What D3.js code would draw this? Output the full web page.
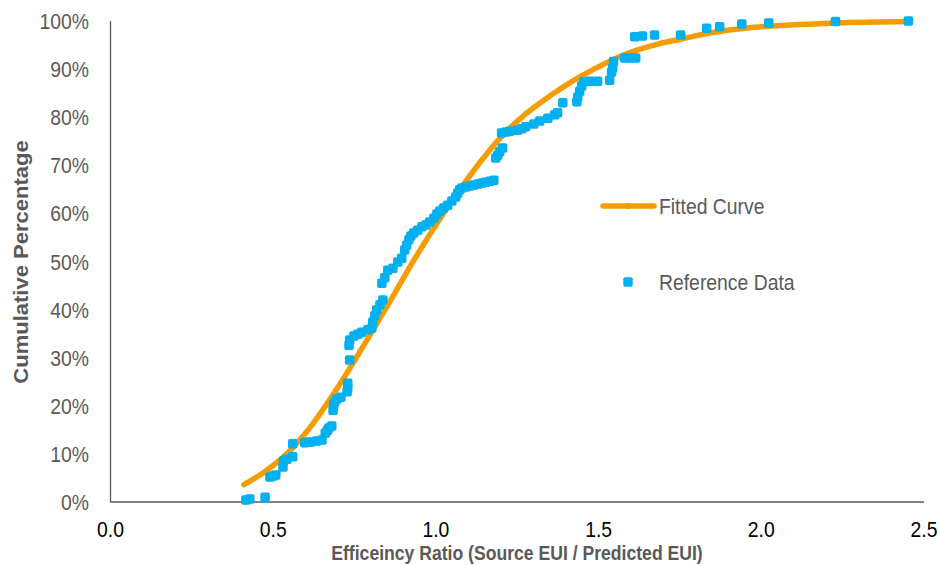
<!DOCTYPE html>
<html>
<head>
<meta charset="utf-8">
<script src="https://cdn.jsdelivr.net/npm/d3@7"></script>
<style>
  body { margin: 0; background: #fff; }
  svg text { font-family: "Liberation Sans", Arial, sans-serif; }
  .ytick { fill: #595959; font-size: 22px; }
  .xtick { fill: #000; font-size: 22px; }
  .axtitle { fill: #595959; font-weight: bold; }
  .legend { fill: #595959; font-size: 22px; }
</style>
</head>
<body>
<svg id="chart" width="940" height="565"></svg>
<script>
// fitted curve
const fitX = [0.41, 0.47, 0.52, 0.57, 0.62, 0.665, 0.73, 0.80, 0.86, 0.93, 1.00, 1.07, 1.14, 1.205,
              1.28, 1.35, 1.42, 1.48, 1.59, 1.67, 1.75, 1.85, 1.95, 2.10, 2.23, 2.455];
const fitY = [3.6, 6.1, 8.7, 12.0, 16.1, 20.4, 27.2, 35.0, 41.8, 50.0, 57.6, 64.6, 71.0, 76.2,
              80.9, 84.4, 87.5, 89.8, 93.3, 95.0, 96.2, 97.6, 98.5, 99.2, 99.6, 99.9];

// reference data (ratio, cumulative %)
const refX = [0.416, 0.428, 0.475, 0.490, 0.500, 0.508, 0.530, 0.532, 0.542, 0.560,
              0.560, 0.597, 0.606, 0.616, 0.634, 0.650, 0.660, 0.666, 0.671, 0.680,
              0.684, 0.686, 0.689, 0.696, 0.708, 0.727, 0.729, 0.729, 0.735,
              0.733, 0.735, 0.748, 0.760, 0.772, 0.791, 0.803, 0.806, 0.812, 0.818, 0.828, 0.837,
              0.834, 0.843, 0.852, 0.868, 0.883, 0.895, 0.904, 0.910, 0.917, 0.923, 0.932, 0.944,
              0.957, 0.969, 0.981, 0.994, 1.003, 1.012, 1.024, 1.036, 1.049, 1.061, 1.067, 1.073,
              1.080, 1.092, 1.104, 1.116, 1.129, 1.141, 1.153, 1.166, 1.178,
              1.184, 1.190, 1.196, 1.205,
              1.202, 1.215, 1.227, 1.251, 1.264, 1.276, 1.301, 1.319, 1.344, 1.365, 1.374,
              1.390, 1.433, 1.436, 1.442, 1.448, 1.454, 1.473, 1.497, 1.534, 1.540, 1.543, 1.546,
              1.580, 1.595, 1.614,
              1.611, 1.635, 1.672, 1.752, 1.832, 1.872, 1.940, 2.023, 2.228, 2.452];
const refY = [0.4, 0.6, 1.0, 5.2, 5.4, 5.6, 7.3, 8.5, 8.9, 9.4,
              12.1, 12.3, 12.4, 12.5, 12.7, 12.9, 14.3, 14.8, 15.4, 15.8,
              19.1, 20.2, 20.8, 21.4, 21.8, 22.9, 23.7, 24.7, 29.5,
              32.6, 33.7, 34.5, 34.9, 35.3, 35.8, 36.2, 37.4, 38.7, 39.9, 41.0, 42.0,
              45.5, 46.6, 48.2, 48.6, 49.9, 50.7, 52.4, 53.4, 54.5, 55.3, 55.9, 56.5,
              57.2, 57.6, 58.2, 59.0, 59.9, 60.5, 61.1, 61.7, 62.6, 63.4, 64.2, 64.9,
              65.3, 65.5, 65.7, 65.9, 66.1, 66.3, 66.5, 66.7, 66.9,
              71.5, 72.1, 72.8, 73.6,
              76.7, 76.9, 77.1, 77.3, 77.6, 78.0, 78.6, 79.2, 79.8, 80.5, 80.9,
              83.0, 83.2, 84.2, 85.4, 86.5, 87.3, 87.5, 87.5, 87.7, 89.4, 90.2, 91.6,
              92.3, 92.3, 92.3,
              96.7, 96.9, 97.1, 97.1, 98.5, 98.8, 99.4, 99.6, 99.9, 100];

const xTicks = [0, 0.5, 1.0, 1.5, 2.0, 2.5];
const yTicks = [0, 10, 20, 30, 40, 50, 60, 70, 80, 90, 100];

const svg = d3.select("#chart");
const x = d3.scaleLinear().domain([0, 2.5]).range([110.5, 924]);
const y = d3.scaleLinear().domain([0, 100]).range([502, 21]);
const squeeze = 0.88; // text in the reference is horizontally narrow

function place(px, py) { return "translate(" + px + "," + py + ") scale(" + squeeze + ",1)"; }

// axes lines
svg.append("line").attr("x1", x(0)).attr("x2", x(0)).attr("y1", y(100)).attr("y2", y(0))
    .attr("stroke", "#595959").attr("stroke-width", 1.3);
svg.append("line").attr("x1", x(0)).attr("x2", x(2.5)).attr("y1", y(0)).attr("y2", y(0))
    .attr("stroke", "#595959").attr("stroke-width", 1.3);

svg.selectAll(".ytick").data(yTicks).join("text").attr("class", "ytick")
    .attr("transform", d => place(89, y(d) + 8)).attr("text-anchor", "end")
    .text(d => d + "%");
svg.selectAll(".xtick").data(xTicks).join("text").attr("class", "xtick")
    .attr("transform", d => place(x(d), 537)).attr("text-anchor", "middle")
    .text(d => d.toFixed(1));

svg.append("text").attr("class", "axtitle")
    .attr("transform", "translate(28,262) rotate(-90) scale(1," + squeeze + ")")
    .attr("text-anchor", "middle").style("font-size", "22px")
    .text("Cumulative Percentage");
svg.append("text").attr("class", "axtitle")
    .attr("transform", place(517, 560)).attr("text-anchor", "middle").style("font-size", "20px")
    .text("Efficeincy Ratio (Source EUI / Predicted EUI)");

// fitted curve
const line = d3.line().x((d, i) => x(fitX[i])).y((d, i) => y(fitY[i])).curve(d3.curveMonotoneX);
svg.append("path").attr("d", line(fitX)).attr("fill", "none")
    .attr("stroke", "#F59C00").attr("stroke-width", 5.5).attr("stroke-linecap", "round");

// reference points
const sz = 9.5;
svg.selectAll(".pt").data(refX).join("rect").attr("class", "pt")
    .attr("x", d => x(d) - sz / 2).attr("y", (d, i) => y(refY[i]) - sz / 2)
    .attr("width", sz).attr("height", sz).attr("rx", 2)
    .attr("fill", "#00B0F0");

// legend
svg.append("line").attr("x1", 603).attr("x2", 654).attr("y1", 206).attr("y2", 206)
    .attr("stroke", "#F59C00").attr("stroke-width", 5.5).attr("stroke-linecap", "round");
svg.append("circle").attr("cx", 628).attr("cy", 206).attr("r", 3).attr("fill", "#F59C00");
svg.append("text").attr("class", "legend").attr("transform", place(659, 214)).text("Fitted Curve");
svg.append("rect").attr("x", 628 - sz / 2).attr("y", 282 - sz / 2).attr("width", sz).attr("height", sz)
    .attr("rx", 2).attr("fill", "#00B0F0");
svg.append("text").attr("class", "legend").attr("transform", place(659, 290)).text("Reference Data");
</script>
</body>
</html>
